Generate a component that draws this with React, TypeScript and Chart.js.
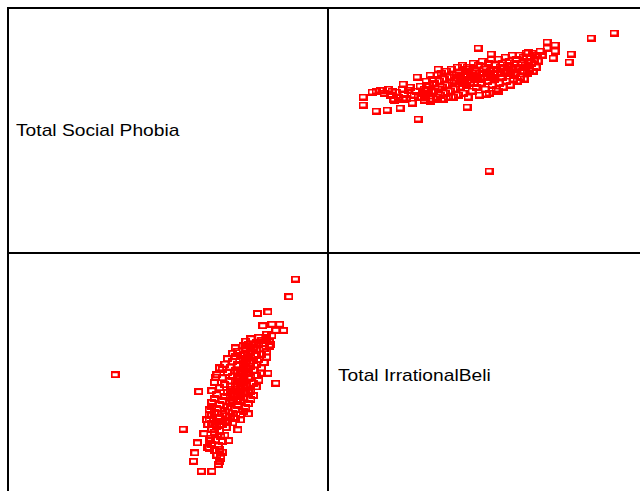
import React, { useEffect, useRef } from "react";
import { Chart, registerables } from "chart.js";

Chart.register(...registerables);

// Variable names (diagonal labels)
const variableLabels = ["Total Social Phobia", "Total IrrationalBeli"];

// Paired observations: Total IrrationalBeli (ib) and Total Social Phobia (sp)
const ibOutliers = [
  183, 171.5, 161.5, 160.5, 152.5, 153.5, 153.5, 149.5, 149.5, 147,
  143.5, 140, 140, 115, 121.5, 109.5, 125, 119, 120.5, 57.5,
  57.5, 64, 69.5, 76, 85, 82, 73, 67, 95, 84.5,
  77.5, 91, 72.5, 77.5, 88, 94.5, 109.5,
];
const spOutliers = [
  110, 107.5, 99.5, 95.5, 97.5, 104, 101, 105.5, 102.5, 99,
  99, 100.5, 94, 102.5, 99.5, 73, 81, 79.5, 41, 78,
  74, 71, 71.5, 72.5, 67, 75, 76.5, 81.5, 92, 88,
  84.5, 89, 77, 77, 76.5, 77, 93,
];

const ibTail = [62, 64, 66, 68, 70, 71, 72, 74, 75, 77, 78, 79, 80, 81, 83, 84, 85, 86, 87, 88, 89, 90, 91, 92];
const spTail = [80.5, 81, 81.5, 80, 82, 79, 81, 80.5, 78, 82, 79.5, 77.5, 81.5, 83, 79, 81, 78, 83.5, 80, 78.5, 84, 82, 76, 80.5];

const ibBand = [
  88, 88.5, 89, 90, 90.5, 91, 92, 92.5, 93, 94, 94.5, 95,
  95.5, 96, 96.5, 97, 97.5, 98, 98.5, 99, 99.5, 100,
  100.5, 101, 101.5, 102, 102.5, 103, 103.5, 104, 104.5, 105,
  105.5, 106, 106.5, 107, 107.5, 108, 108.5, 109, 109.5, 110,
  110.5, 111, 111.5, 112, 112.5, 113, 113.5, 114, 114.5, 115,
  115.5, 116, 116.5, 117, 117.5, 118, 118.5, 119, 119.5, 120,
  120.5, 121, 121.5, 122, 122.5, 123, 123.5, 124, 124.5, 125,
  125.5, 126, 126.5, 127, 127.5, 128, 128.5, 129, 129.5, 130,
  130.5, 131, 131.5, 132, 132.5, 133, 133.5, 134, 134.5, 135,
  135.5, 136, 136.5, 137, 137.5, 138, 138.5, 139, 139.5, 140,
  140.5, 141, 141.5, 142, 142.5, 143, 144, 144.5, 145, 146,
];
const spBand = [
  82, 78, 86, 80, 84, 77, 87, 81, 85, 78, 89, 82,
  86, 79, 90, 83, 77, 87, 80, 91, 84, 78,
  88, 81, 92, 85, 78, 89, 82, 86, 93, 79,
  90, 83, 87, 94, 80, 86, 91, 84, 89, 78,
  93, 85, 89, 81, 95, 87, 91, 83, 88, 94,
  79, 90, 85, 96, 88, 92, 82, 90, 86, 95,
  80, 89, 97, 84, 92, 87, 94, 82, 90, 97,
  85, 93, 88, 95, 83, 91, 98, 86, 94, 90,
  96, 84, 92, 99, 87, 95, 90, 97, 86, 93,
  99, 88, 95, 91, 98, 87, 94, 100, 90, 96,
  92, 98, 95, 100, 91, 97, 93, 99, 96, 101,
];

const ibCore = [101, 103, 104, 106, 107, 108, 109, 111, 112, 113, 114, 116, 117, 118, 119, 121, 122, 123, 124, 126, 127, 128, 129, 131, 132, 133, 134, 136, 137, 138];
const spCore = [88, 86, 89, 88, 85, 89, 92, 88, 90, 85, 91, 87, 90, 88, 93, 91, 88, 90, 92, 90, 88, 93, 91, 90, 93, 89, 92, 93, 95, 91];

const irrationalBeliefs = [...ibOutliers, ...ibTail, ...ibBand, ...ibCore];
const socialPhobia = [...spOutliers, ...spTail, ...spBand, ...spCore];

// Axis ranges
const ibRange = [40, 200];
const spRange = [0, 122.5];

const PANEL_W = 320;
const PANEL_H = 245;
const LEFT = 8;
const TOP = 8;

function makeMarker(): HTMLCanvasElement {
  const c = document.createElement("canvas");
  c.width = 9;
  c.height = 7;
  const ctx = c.getContext("2d")!;
  ctx.fillStyle = "#ff0000";
  ctx.fillRect(0, 0, 9, 7);
  ctx.clearRect(2, 2, 5, 3);
  return c;
}

function ScatterPanel(props: { xs: number[]; ys: number[]; xr: number[]; yr: number[]; left: number; top: number }) {
  const ref = useRef<HTMLCanvasElement>(null);
  useEffect(() => {
    const marker = makeMarker();
    const data = props.xs.map((x, i) => ({ x, y: props.ys[i] }));
    const chart = new Chart(ref.current!, {
      type: "scatter",
      data: {
        datasets: [
          {
            data,
            pointStyle: marker as any,
            pointRadius: 5,
            pointHoverRadius: 5,
          },
        ],
      },
      options: {
        animation: false,
        responsive: false,
        events: [],
        layout: { padding: 0, autoPadding: false },
        plugins: { legend: { display: false }, tooltip: { enabled: false } },
        scales: {
          x: { type: "linear", display: false, min: props.xr[0], max: props.xr[1] },
          y: { type: "linear", display: false, min: props.yr[0], max: props.yr[1] },
        },
      },
    });
    return () => chart.destroy();
  }, []);
  return (
    <canvas
      ref={ref}
      width={PANEL_W}
      height={PANEL_H}
      style={{ position: "absolute", left: props.left, top: props.top, width: PANEL_W, height: PANEL_H }}
    />
  );
}

const labelStyle: React.CSSProperties = {
  position: "absolute",
  height: PANEL_H,
  display: "flex",
  alignItems: "center",
  fontFamily: '"Liberation Sans", Arial, sans-serif',
  fontSize: 17,
  color: "#000",
  whiteSpace: "nowrap",
  transform: "scaleX(1.13)",
  transformOrigin: "left center",
};

export default function App() {
  const line = (l: number, t: number, w: number, h: number) => (
    <div style={{ position: "absolute", left: l, top: t, width: w, height: h, background: "#000" }} />
  );
  return (
    <div style={{ position: "fixed", left: 0, top: 0, width: 640, height: 491, overflow: "hidden", background: "#fff" }}>
      <div style={{ ...labelStyle, left: LEFT + 8, top: TOP }}>{variableLabels[0]}</div>
      <div style={{ ...labelStyle, left: LEFT + PANEL_W + 10, top: TOP + PANEL_H }}>{variableLabels[1]}</div>
      <ScatterPanel xs={irrationalBeliefs} ys={socialPhobia} xr={ibRange} yr={spRange} left={LEFT + PANEL_W} top={TOP} />
      <ScatterPanel xs={socialPhobia} ys={irrationalBeliefs} xr={spRange} yr={ibRange} left={LEFT} top={TOP + PANEL_H} />
      {line(7, 7, 640, 2)}
      {line(7, 7, 2, 491)}
      {line(7, 252, 640, 2)}
      {line(327, 7, 2, 491)}
    </div>
  );
}
